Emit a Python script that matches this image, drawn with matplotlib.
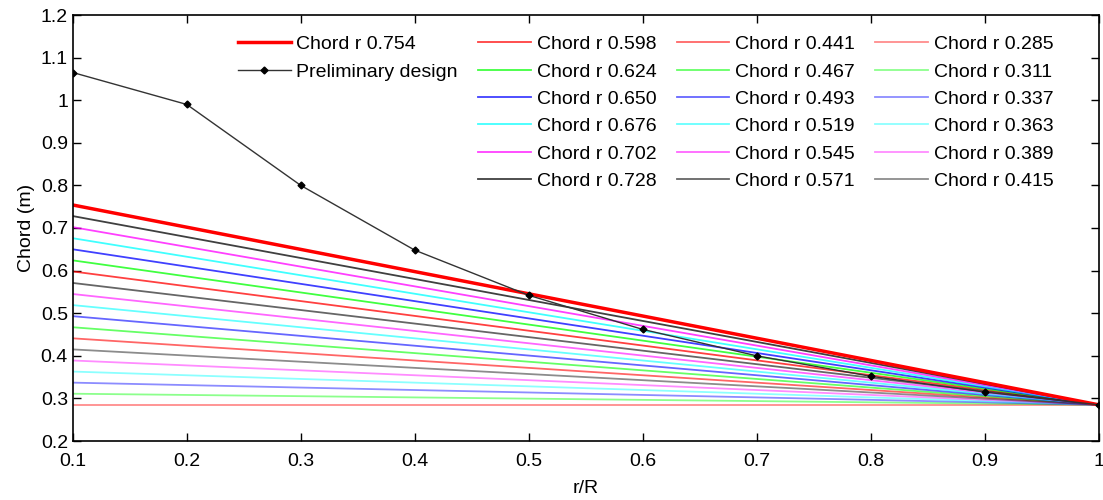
import matplotlib
matplotlib.use("Agg")
import matplotlib.pyplot as plt
from matplotlib.lines import Line2D
from matplotlib.ticker import FuncFormatter

plt.rcParams['font.family'] = ['Liberation Sans', 'DejaVu Sans']

# r/R stations
r_R = [0.1, 0.2, 0.3, 0.4, 0.5, 0.6, 0.7, 0.8, 0.9, 1.0]

# preliminary design chord along the blade
prelim_chord = [1.065, 0.99, 0.80, 0.648, 0.542, 0.462, 0.400, 0.352, 0.315, 0.285]

# linear chord distributions: root chord at r/R=0.1, tip chord at r/R=1
tip_chord = 0.285
root_main = 0.754
root_group1 = [0.598, 0.624, 0.650, 0.676, 0.702, 0.728]
root_group2 = [0.441, 0.467, 0.493, 0.519, 0.545, 0.571]
root_group3 = [0.285, 0.311, 0.337, 0.363, 0.389, 0.415]

cycle = ['red', 'lime', 'blue', 'cyan', 'magenta', 'black']
group_alpha = [0.75, 0.6, 0.45]

fig = plt.figure(figsize=(11.03, 5.0), dpi=100)
ax = fig.add_axes([0.066, 0.118, 0.930, 0.852])

group_handles = []
for roots, a in zip([root_group1, root_group2, root_group3], group_alpha):
    hs = []
    for c0, col in zip(roots, cycle):
        h, = ax.plot([r_R[0], r_R[-1]], [c0, tip_chord], color=col, alpha=a,
                     lw=1.3, label='Chord r %.3f' % c0)
        hs.append(h)
    group_handles.append(hs)

h_main, = ax.plot([r_R[0], r_R[-1]], [root_main, tip_chord], color='red', lw=2.5,
                  label='Chord r %.3f' % root_main)
h_pre, = ax.plot(r_R, prelim_chord, color='#333333', lw=1.0, marker='D',
                 markersize=3.5, markerfacecolor='black', markeredgecolor='black',
                 label='Preliminary design')

# pad first legend column with blanks so it holds only two entries
blank = Line2D([], [], linestyle='none', marker=None)
handles = [h_main, h_pre] + [blank] * 4 + group_handles[0] + group_handles[1] + group_handles[2]
labels = [h.get_label() if h is not blank else '' for h in handles]
ax.legend(handles, labels, ncol=4, loc='upper left', bbox_to_anchor=(0.146, 0.988),
          frameon=False, fontsize=14, handlelength=2.7, labelspacing=0.5,
          columnspacing=1.05, handletextpad=0.3, borderpad=0.3)

ax.set_xlim(0.1, 1.0)
ax.set_ylim(0.2, 1.2)
ax.set_xticks(r_R)
ax.set_yticks([0.2, 0.3, 0.4, 0.5, 0.6, 0.7, 0.8, 0.9, 1.0, 1.1, 1.2])
ax.xaxis.set_major_formatter(FuncFormatter(lambda v, p: '%g' % v))
ax.yaxis.set_major_formatter(FuncFormatter(lambda v, p: '%g' % v))
ax.tick_params(direction='in', top=True, right=True, labelsize=14, length=6, width=1)
ax.tick_params(axis='x', pad=9)
for s in ax.spines.values():
    s.set_linewidth(1.2)
ax.set_xlabel('r/R', fontsize=14, labelpad=7)
ax.set_ylabel('Chord (m)', fontsize=14, labelpad=4)

fig.savefig('out.png', dpi=100)
